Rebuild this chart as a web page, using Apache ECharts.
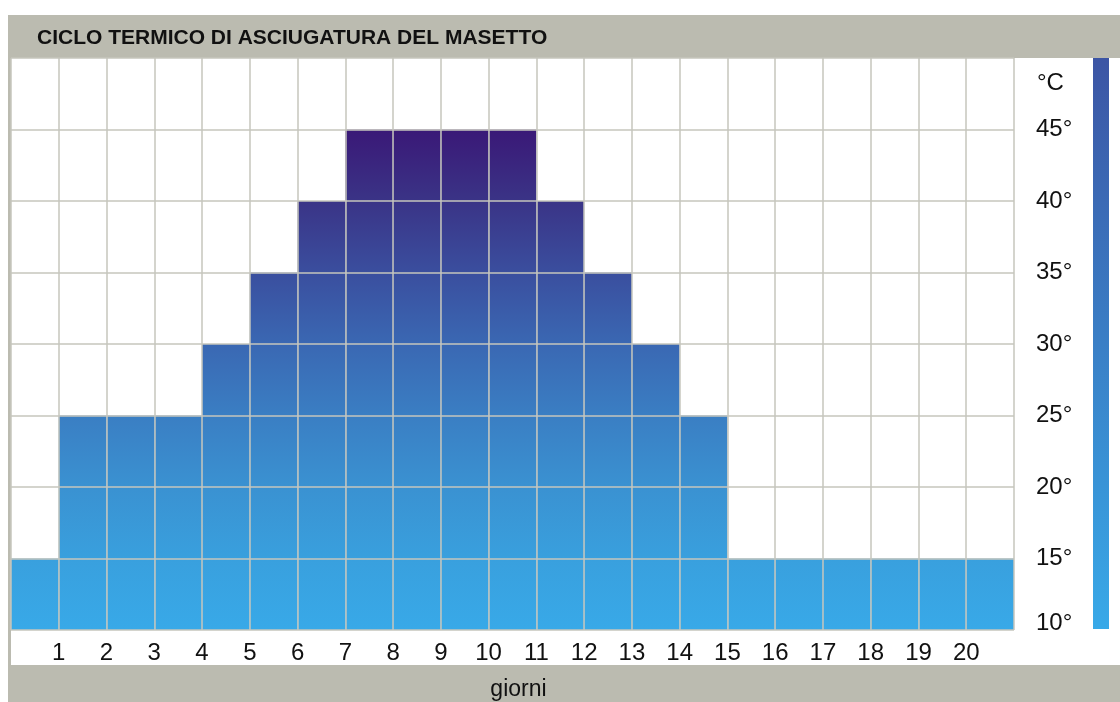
<!DOCTYPE html>
<html>
<head>
<meta charset="utf-8">
<title>Ciclo termico di asciugatura del masetto</title>
<script src="https://cdn.jsdelivr.net/npm/echarts@6/dist/echarts.min.js"></script>
<style>
  html, body { margin: 0; padding: 0; background: #fff; }
  #chart { width: 1120px; height: 702px; }
</style>
</head>
<body>
<div id="chart"></div>
<script>
// one column per day: column i spans day i -> day i+1
const dayColumns = ['0', '1', '2', '3', '4', '5', '6', '7', '8', '9', '10',
  '11', '12', '13', '14', '15', '16', '17', '18', '19', '20']
// target temperature (°C) reached in each column
const temperatures = [15, 25, 25, 25, 30, 35, 40, 45, 45, 45, 45,
  40, 35, 30, 25, 15, 15, 15, 15, 15, 15]
const dayTicks = [1, 2, 3, 4, 5, 6, 7, 8, 9, 10, 11, 12, 13, 14, 15, 16, 17, 18, 19, 20]
const tempTicks = [10, 15, 20, 25, 30, 35, 40, 45]

const titleText = 'CICLO TERMICO DI ASCIUGATURA DEL MASETTO'
const gridLine = '#c6c6bd'
const band = '#bbbbb0'
const font = '"Liberation Sans", Arial, sans-serif'

const chart = echarts.init(document.getElementById('chart'))

// gradient shared by every bar (pixel coords of the plot: 45° -> 10°)
const barFill = {
  type: 'linear', x: 0, y: 129, x2: 0, y2: 630, global: true,
  colorStops: [
    { offset: 0, color: '#3a1877' },
    { offset: 0.14, color: '#3a3386' },
    { offset: 0.29, color: '#3a4f9f' },
    { offset: 0.43, color: '#3a68b3' },
    { offset: 0.57, color: '#3a7ec3' },
    { offset: 0.71, color: '#3a91d1' },
    { offset: 0.86, color: '#39a0de' },
    { offset: 1, color: '#38a9e8' }
  ]
}

const option = {
  backgroundColor: '#fff',
  animation: false,
  textStyle: { fontFamily: font },
  grid: { left: 11, right: 106, top: 58, bottom: 72, outerBoundsMode: 'none', containLabel: false },
  graphic: [
    { type: 'rect', left: 8, top: 15, shape: { width: 1112, height: 43 }, style: { fill: band } },
    { type: 'rect', left: 8, top: 15, shape: { width: 3, height: 687 }, style: { fill: band } },
    { type: 'rect', left: 8, top: 665, shape: { width: 1112, height: 37 }, style: { fill: band } },
    {
      type: 'text', left: 37, top: 28,
      style: { text: titleText, fill: '#111', font: 'bold 21px ' + font }
    },
    {
      type: 'text', left: 1037, top: 71,
      style: { text: '°C', fill: '#111', font: '24px ' + font }
    },
    {
      type: 'rect', left: 1093, top: 58, shape: { width: 16, height: 571 },
      style: {
        fill: {
          type: 'linear', x: 0, y: 0, x2: 0, y2: 1,
          colorStops: [
            { offset: 0, color: '#3c55a4' },
            { offset: 1, color: '#38a9e8' }
          ]
        }
      }
    }
  ],
  xAxis: [
    {
      type: 'category',
      position: 'bottom',
      data: dayColumns,
      show: false
    },
    {
      type: 'value',
      position: 'bottom',
      min: 0,
      max: dayColumns.length,
      interval: 1,
      z: 5,
      name: 'giorni',
      nameLocation: 'middle',
      nameGap: 60,
      nameTextStyle: { fontSize: 23, color: '#111', verticalAlign: 'middle', padding: [0, 0, 0, 12] },
      axisLine: { show: false },
      axisTick: { show: false },
      splitLine: { show: true, lineStyle: { color: gridLine, width: 1.5 } },
      axisLabel: {
        margin: 11,
        fontSize: 24,
        color: '#111',
        formatter: v => (dayTicks.indexOf(v) >= 0 ? String(v) : '')
      }
    }
  ],
  yAxis: {
    type: 'value',
    position: 'right',
    min: 10,
    max: 50,
    interval: 5,
    z: 5,
    axisLine: { show: false },
    axisTick: { show: false },
    splitLine: { show: true, lineStyle: { color: gridLine, width: 1.5 } },
    axisLabel: {
      margin: 22,
      fontSize: 24,
      color: '#111',
      formatter: v => {
        if (tempTicks.indexOf(v) < 0) return ''
        return v === tempTicks[0] ? '{low|' + v + '°}' : v + '°'
      },
      rich: { low: { fontSize: 24, color: '#111', padding: [0, 0, 14, 0] } }
    }
  },
  series: [
    {
      type: 'bar',
      xAxisIndex: 0,
      data: temperatures,
      barCategoryGap: 0,
      itemStyle: { color: barFill }
    }
  ]
}

chart.setOption(option)
</script>
</body>
</html>
